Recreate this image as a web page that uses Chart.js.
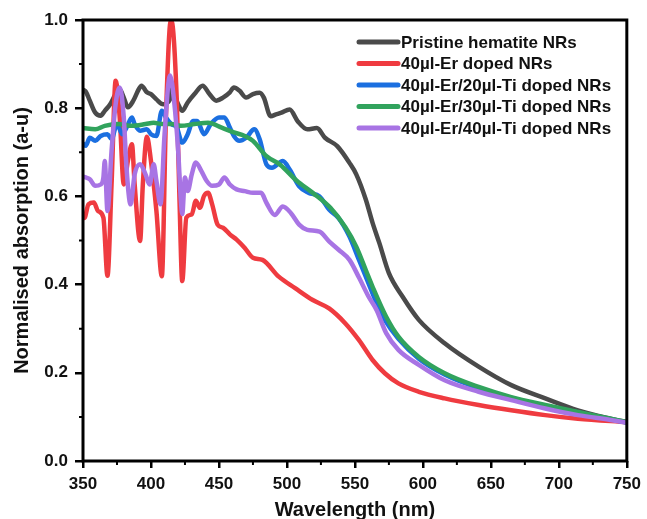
<!DOCTYPE html>
<html>
<head>
<meta charset="utf-8">
<script src="https://cdn.jsdelivr.net/npm/chart.js@4.4.1/dist/chart.umd.min.js"></script>
<style>
  html, body { margin: 0; padding: 0; background: #fff; overflow: hidden; }
  #wrap { width: 647px; height: 519px; overflow: hidden; }
</style>
</head>
<body>
<div id="wrap"><canvas id="uvChart" width="647" height="525"></canvas></div>
<script>
// Series labels and colours
const seriesLabels = [
  'Pristine hematite NRs',
  '40µl-Er doped NRs',
  '40µl-Er/20µl-Ti doped NRs',
  '40µl-Er/30µl-Ti doped NRs',
  '40µl-Er/40µl-Ti doped NRs'
];
const seriesColors = ['#4a4a4a', '#ef3b40', '#1b6fe0', '#31a35d', '#a874e4'];

// Pristine hematite
const pristineX = [350, 352, 355, 359, 363, 366, 370, 374, 377, 380, 383, 387, 391, 393, 397, 400, 404, 409, 414, 415, 420, 423, 427, 432, 438, 443, 448, 453, 458, 461, 465, 470, 475, 480, 483, 488, 492, 496, 502, 508, 515, 522, 528, 537, 546, 551, 558, 563, 568, 575, 585, 597, 616, 641, 665, 690, 714, 738, 750];
const pristineY = [0.842, 0.838, 0.817, 0.79, 0.783, 0.794, 0.809, 0.832, 0.843, 0.824, 0.802, 0.817, 0.843, 0.851, 0.836, 0.832, 0.82, 0.809, 0.82, 0.843, 0.809, 0.794, 0.813, 0.832, 0.851, 0.832, 0.817, 0.824, 0.836, 0.847, 0.84, 0.824, 0.832, 0.835, 0.824, 0.782, 0.786, 0.79, 0.797, 0.77, 0.752, 0.755, 0.733, 0.714, 0.676, 0.65, 0.593, 0.54, 0.494, 0.426, 0.373, 0.32, 0.267, 0.214, 0.172, 0.142, 0.115, 0.096, 0.088];

// 40ul Er
const erX = [350, 351, 354, 358, 361, 365, 368, 371, 374, 377, 380, 383, 386, 388, 392, 394, 397, 400, 404, 408, 411, 414, 415, 419, 421, 423, 426, 430, 433, 436, 439, 442, 445, 449, 453, 458, 463, 469, 475, 482, 494, 506, 519, 531, 543, 553, 563, 572, 582, 597, 616, 641, 665, 690, 714, 750];
const erY = [0.56, 0.551, 0.582, 0.586, 0.567, 0.552, 0.42, 0.627, 0.862, 0.779, 0.627, 0.68, 0.718, 0.627, 0.499, 0.627, 0.735, 0.68, 0.567, 0.419, 0.779, 0.99, 0.999, 0.817, 0.59, 0.408, 0.552, 0.559, 0.59, 0.574, 0.601, 0.608, 0.582, 0.536, 0.529, 0.514, 0.502, 0.483, 0.461, 0.456, 0.418, 0.392, 0.365, 0.346, 0.312, 0.274, 0.229, 0.199, 0.176, 0.157, 0.142, 0.127, 0.115, 0.104, 0.096, 0.088];

// 40ul Er / 20ul Ti
const ti20X = [350, 352, 355, 359, 363, 368, 371, 375, 379, 382, 386, 388, 392, 397, 400, 404, 408, 411, 415, 419, 423, 427, 431, 434, 439, 444, 450, 454, 458, 461, 465, 470, 476, 480, 485, 489, 497, 502, 509, 516, 524, 531, 538, 546, 553, 560, 566, 572, 582, 597, 616, 641, 665, 690, 714, 738, 750];
const ti20Y = [0.72, 0.715, 0.733, 0.726, 0.737, 0.741, 0.73, 0.764, 0.741, 0.756, 0.779, 0.764, 0.749, 0.752, 0.741, 0.737, 0.794, 0.779, 0.764, 0.756, 0.722, 0.741, 0.771, 0.771, 0.741, 0.764, 0.779, 0.779, 0.756, 0.737, 0.726, 0.733, 0.752, 0.729, 0.672, 0.665, 0.68, 0.661, 0.623, 0.608, 0.6, 0.57, 0.551, 0.509, 0.456, 0.403, 0.358, 0.32, 0.277, 0.232, 0.196, 0.165, 0.143, 0.125, 0.11, 0.095, 0.087];

// 40ul Er / 30ul Ti
const ti30X = [350, 359, 366, 376, 386, 396, 402, 408, 415, 422, 432, 442, 452, 461, 469, 475, 485, 495, 507, 519, 532, 543, 551, 558, 563, 573, 582, 597, 616, 641, 665, 690, 714, 738, 750];
const ti30Y = [0.755, 0.752, 0.76, 0.764, 0.76, 0.764, 0.767, 0.764, 0.764, 0.76, 0.764, 0.767, 0.756, 0.745, 0.737, 0.726, 0.691, 0.672, 0.636, 0.608, 0.574, 0.53, 0.486, 0.433, 0.395, 0.327, 0.282, 0.236, 0.199, 0.168, 0.145, 0.127, 0.111, 0.096, 0.088];

// 40ul Er / 40ul Ti
const ti40X = [350, 352, 355, 359, 363, 365, 366, 368, 371, 374, 377, 380, 382, 385, 388, 392, 396, 399, 402, 404, 407, 410, 414, 417, 420, 422, 423, 425, 427, 430, 433, 437, 441, 445, 450, 454, 458, 463, 469, 475, 481, 485, 491, 497, 503, 509, 515, 524, 531, 538, 546, 553, 560, 566, 573, 582, 597, 616, 641, 665, 690, 714, 738, 750];
const ti40Y = [0.645, 0.643, 0.639, 0.624, 0.627, 0.643, 0.68, 0.567, 0.703, 0.809, 0.847, 0.779, 0.665, 0.582, 0.65, 0.673, 0.65, 0.627, 0.673, 0.635, 0.582, 0.741, 0.874, 0.817, 0.703, 0.59, 0.56, 0.643, 0.612, 0.65, 0.677, 0.658, 0.635, 0.624, 0.627, 0.643, 0.627, 0.616, 0.612, 0.608, 0.608, 0.585, 0.558, 0.577, 0.562, 0.536, 0.524, 0.52, 0.498, 0.479, 0.456, 0.416, 0.373, 0.342, 0.29, 0.252, 0.218, 0.183, 0.157, 0.138, 0.119, 0.104, 0.093, 0.087];

const xSeries = [pristineX, erX, ti20X, ti30X, ti40X];
const ySeries = [pristineY, erY, ti20Y, ti30Y, ti40Y];
const drawOrder = [5, 4, 3, 2, 1];

const FONT = "'Liberation Sans', Arial, sans-serif";

const datasets = seriesLabels.map((label, i) => ({
  label: label,
  data: xSeries[i].map((x, j) => ({ x: x, y: ySeries[i][j] })),
  borderColor: seriesColors[i],
  backgroundColor: seriesColors[i],
  borderWidth: 4.5,
  pointRadius: 0,
  cubicInterpolationMode: 'monotone',
  order: drawOrder[i]
}));

// frame, minor ticks and the in-plot legend
const framePlugin = {
  id: 'frame',
  afterDraw(chart) {
    const { ctx, chartArea: a, scales } = chart;
    ctx.save();
    ctx.strokeStyle = '#000';
    ctx.lineWidth = 3;
    ctx.strokeRect(a.left, a.top, a.right - a.left, a.bottom - a.top);

    // minor ticks
    ctx.lineWidth = 2;
    ctx.beginPath();
    for (let v = 375; v < 750; v += 50) {
      const px = scales.x.getPixelForValue(v);
      ctx.moveTo(px, a.bottom);
      ctx.lineTo(px, a.bottom + 4);
    }
    for (let v = 0.1; v < 1; v += 0.2) {
      const py = scales.y.getPixelForValue(v);
      ctx.moveTo(a.left, py);
      ctx.lineTo(a.left - 4, py);
    }
    ctx.stroke();

    // legend
    ctx.font = 'bold 17px ' + FONT;
    ctx.textBaseline = 'middle';
    ctx.textAlign = 'left';
    chart.data.datasets.forEach((ds, i) => {
      const y = 42 + i * 21.5;
      ctx.strokeStyle = ds.borderColor;
      ctx.lineWidth = 5;
      ctx.lineCap = 'round';
      ctx.beginPath();
      ctx.moveTo(359, y);
      ctx.lineTo(398, y);
      ctx.stroke();
      ctx.fillStyle = '#111';
      ctx.fillText(ds.label, 401, y + 1);
    });
    ctx.restore();
  }
};

new Chart(document.getElementById('uvChart').getContext('2d'), {
  type: 'line',
  data: { datasets: datasets },
  options: {
    responsive: false,
    animation: false,
    layout: { padding: { top: 20, right: 18, left: 0, bottom: 0 } },
    plugins: {
      legend: { display: false },
      tooltip: { enabled: false }
    },
    scales: {
      x: {
        type: 'linear',
        min: 350,
        max: 750,
        afterFit: (scale) => { scale.height = 64; },
        ticks: {
          stepSize: 50,
          color: '#111',
          padding: 6,
          font: { family: FONT, size: 17, weight: 'bold' }
        },
        grid: {
          drawOnChartArea: false,
          drawTicks: true,
          tickLength: 7,
          lineWidth: 2.5,
          color: '#000'
        },
        border: { display: false },
        title: {
          display: true,
          text: 'Wavelength (nm)',
          color: '#111',
          padding: { top: 0, bottom: 3 },
          font: { family: FONT, size: 20, weight: 'bold' }
        }
      },
      y: {
        type: 'linear',
        min: 0,
        max: 1,
        afterFit: (scale) => { scale.width = 83; },
        ticks: {
          stepSize: 0.2,
          color: '#111',
          padding: 7,
          font: { family: FONT, size: 17, weight: 'bold' },
          callback: (v) => v.toFixed(1)
        },
        grid: {
          drawOnChartArea: false,
          drawTicks: true,
          tickLength: 8,
          lineWidth: 2.5,
          color: '#000'
        },
        border: { display: false },
        title: {
          display: true,
          text: 'Normalised absorption (a-u)',
          color: '#111',
          padding: { top: 10, bottom: 0 },
          font: { family: FONT, size: 20, weight: 'bold' }
        }
      }
    }
  },
  plugins: [framePlugin]
});
</script>
</body>
</html>
